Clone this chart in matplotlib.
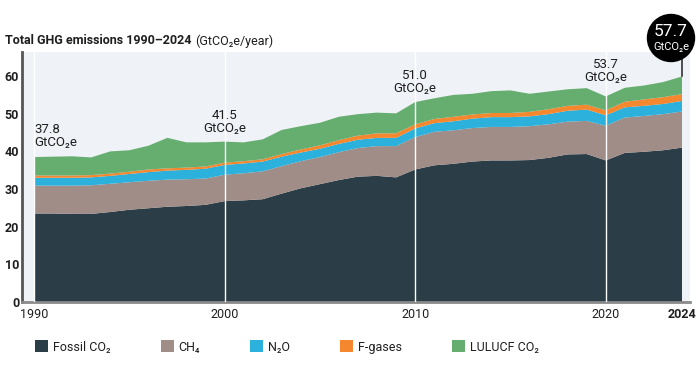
import matplotlib
matplotlib.use('Agg')
import matplotlib.pyplot as plt
from matplotlib.patches import Ellipse
import numpy as np

# values (GtCO2e/year)
years = list(range(1990, 2025))
fossil_co2 = [23.5, 23.5, 23.4, 23.4, 23.9, 24.5, 24.9, 25.3, 25.5, 25.8,
              26.8, 27.0, 27.3, 28.8, 30.2, 31.3, 32.4, 33.3, 33.5, 33.1,
              35.2, 36.3, 36.7, 37.3, 37.6, 37.6, 37.7, 38.3, 39.2, 39.3,
              37.6, 39.6, 39.9, 40.3, 41.0]
ch4 = [7.4, 7.4, 7.5, 7.6, 7.5, 7.3, 7.3, 7.2, 7.1, 7.0,
       7.0, 7.2, 7.4, 7.3, 7.2, 7.2, 7.4, 7.6, 7.9, 8.3,
       8.6, 8.9, 8.9, 8.9, 8.9, 8.9, 9.0, 8.9, 8.7, 8.8,
       9.2, 9.4, 9.5, 9.6, 9.6]
n2o = [2.1, 2.1, 2.1, 2.1, 2.1, 2.2, 2.3, 2.4, 2.5, 2.6,
       2.6, 2.6, 2.6, 2.5, 2.3, 2.2, 2.2, 2.2, 2.2, 2.2,
       2.3, 2.3, 2.4, 2.5, 2.6, 2.6, 2.6, 2.7, 2.9, 3.0,
       2.8, 2.7, 2.7, 2.7, 2.8]
f_gases = [0.6, 0.6, 0.6, 0.6, 0.6, 0.6, 0.7, 0.6, 0.6, 0.6,
           0.6, 0.6, 0.6, 0.7, 0.8, 0.9, 1.0, 1.1, 1.2, 1.2,
           1.1, 1.1, 1.2, 1.1, 1.1, 1.1, 1.2, 1.3, 1.3, 1.3,
           1.3, 1.5, 1.7, 1.8, 1.8]
lulucf_co2 = [4.9, 5.0, 5.1, 4.7, 5.9, 5.7, 6.3, 8.1, 6.7, 6.4,
              5.6, 5.0, 5.3, 6.4, 6.2, 6.0, 6.2, 5.7, 5.5, 5.3,
              5.9, 5.5, 5.8, 5.5, 5.8, 6.0, 4.8, 4.7, 4.4, 4.4,
              3.7, 3.7, 3.7, 4.0, 4.7]

series_names = ['Fossil CO₂', 'CH₄', 'N₂O', 'F-gases', 'LULUCF CO₂']
colors = ['#2b3d46', '#a08d87', '#2bb1dc', '#f5872e', '#66ae6f']

label_years = [1990, 2000, 2010, 2020]
label_totals = [37.8, 41.5, 51.0, 53.7]
final_year = 2024
final_total = 57.7

plt.rcParams['font.family'] = ['Roboto', 'DejaVu Sans']
dark = '#1f1f1f'

fig = plt.figure(figsize=(7, 3.78), dpi=100)
ax = fig.add_axes([22/700, 1 - 302/378, 668/700, 250/378])
ax.set_facecolor('#eff2f6')

polys = ax.stackplot(years, fossil_co2, ch4, n2o, f_gases, lulucf_co2,
                     colors=colors, labels=series_names, lw=0)
ax.set_xlim(1989.37, 2024.42)
ax.set_ylim(0, 66.4)

for yr in label_years:
    ax.axvline(yr, color='white', lw=1, zorder=3)

# total labels above the stack
label_y = [44.2, 47.9, 58.3, 61.3]
for yr, tot, ly in zip(label_years, label_totals, label_y):
    ha = 'left' if yr == years[0] else 'center'
    ax.text(yr, ly, f'{tot:.1f}\nGtCO₂e', ha=ha, va='center', fontsize=9.5,
            color=dark, linespacing=1.0, zorder=5)

# final value bubble
top_final = fossil_co2[-1] + ch4[-1] + n2o[-1] + f_gases[-1] + lulucf_co2[-1]
ax.plot([final_year, final_year], [top_final, 64.6], color='#333333', lw=1.2, zorder=4)
fig.add_artist(Ellipse((671/700, 1 - 38/378), 47/700, 47/378,
                       transform=fig.transFigure, color='black', zorder=10))
fig.text(671/700, 1 - 31/378, f'{final_total:.1f}', color='white', fontsize=12.5,
         ha='center', va='center', zorder=11)
fig.text(671/700, 1 - 47/378, 'GtCO₂e', color='white', fontsize=8,
         ha='center', va='center', zorder=11)

# axes styling
for s in ['top', 'right']:
    ax.spines[s].set_visible(False)
ax.spines['left'].set_color('#555555')
ax.spines['left'].set_linewidth(2)
ax.spines['bottom'].set_color('#8a8a8a')
ax.spines['bottom'].set_linewidth(2)

ax.set_yticks(range(0, 61, 10))
ax.tick_params(axis='y', length=0, pad=2, labelsize=9, labelcolor=dark)
for t in ax.get_yticklabels():
    t.set_fontweight('bold')
ax.set_xticks([1990, 2000, 2010, 2020, 2024])
ax.tick_params(axis='x', length=0, pad=4, labelsize=9, labelcolor=dark)
ax.get_xticklabels()[-1].set_fontweight('bold')

# title in two weights
t1 = fig.text(5/700, 1 - 41/378, 'Total GHG emissions 1990–2024', fontsize=9,
              fontweight='bold', color=dark, va='center')
fig.canvas.draw()
bb = t1.get_window_extent()
fig.text((bb.x1 + 4)/700, 1 - 41/378, '(GtCO₂e/year)', fontsize=9,
         color=dark, va='center')

fig.legend(handles=polys, labels=series_names, loc='center left',
           bbox_to_anchor=(35/700, 1 - 347/378), ncol=5, frameon=False,
           fontsize=9, handlelength=1.04, handleheight=1.04, handletextpad=0.4,
           columnspacing=4.0, borderpad=0, borderaxespad=0, labelcolor=dark)

fig.savefig('out.png', dpi=100)
